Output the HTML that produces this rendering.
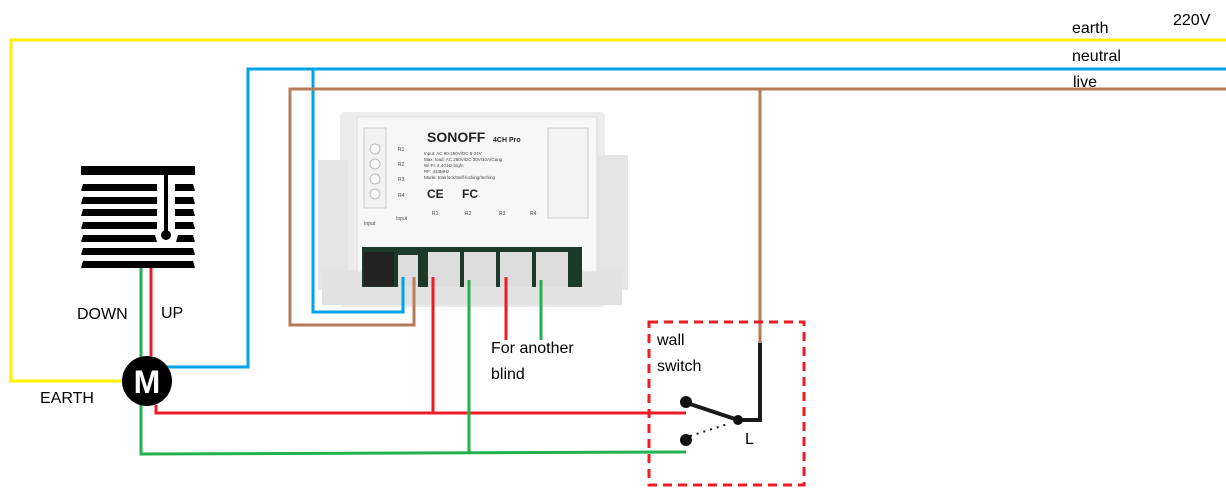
<!DOCTYPE html>
<html><head><style>
html,body{margin:0;padding:0;background:#fff;width:1226px;height:494px;overflow:hidden}
svg text{font-family:"Liberation Sans",sans-serif}
</style></head><body>
<svg width="1226" height="494" viewBox="0 0 1226 494" xmlns="http://www.w3.org/2000/svg">
<!-- device body -->
<g>
<rect x="340" y="112" width="265" height="195" rx="4" fill="#ececec"/>
<rect x="318" y="160" width="30" height="130" fill="#e4e4e4"/>
<rect x="598" y="155" width="30" height="135" fill="#e4e4e4"/>
<rect x="322" y="270" width="300" height="35" fill="#e2e2e2"/>
<rect x="357" y="117" width="240" height="155" fill="#f7f7f7" stroke="#ddd"/>
<rect x="364" y="128" width="22" height="80" fill="#f2f2f2" stroke="#ccc"/>
<rect x="548" y="128" width="40" height="90" fill="#f4f4f4" stroke="#ccc"/>
<circle cx="375" cy="149" r="5" fill="#fafafa" stroke="#bbb"/>
<circle cx="375" cy="164" r="5" fill="#fafafa" stroke="#bbb"/>
<circle cx="375" cy="179" r="5" fill="#fafafa" stroke="#bbb"/>
<circle cx="375" cy="194" r="5" fill="#fafafa" stroke="#bbb"/>
<rect x="362" y="247" width="220" height="40" fill="#1c3a2a"/>
<rect x="364" y="252" width="30" height="34" fill="#222"/>
<rect x="398" y="255" width="20" height="32" fill="#ddd"/>
<rect x="428" y="252" width="32" height="35" fill="#ddd"/>
<rect x="464" y="252" width="32" height="35" fill="#ddd"/>
<rect x="500" y="252" width="32" height="35" fill="#ddd"/>
<rect x="536" y="252" width="32" height="35" fill="#ddd"/>
<text x="427" y="142" font-size="14" font-weight="bold" fill="#222">SONOFF</text>
<text x="493" y="142" font-size="7" font-weight="bold" fill="#222">4CH Pro</text>
<text x="424" y="155" font-size="4.5" fill="#444">Input: AC 90-250V/DC 5-24V</text>
<text x="424" y="161" font-size="4.5" fill="#444">Max. load: AC 250V/DC 30V/10A/Gang</text>
<text x="424" y="167" font-size="4.5" fill="#444">Wi-Fi: 2.4GHz b/g/n</text>
<text x="424" y="173" font-size="4.5" fill="#444">RF: 433MHz</text>
<text x="424" y="179" font-size="4.5" fill="#444">Mode: Interlock/Self-locking/Inching</text>
<text x="427" y="198" font-size="12" font-weight="bold" fill="#222">CE</text>
<text x="462" y="198" font-size="12" font-weight="bold" fill="#222">FC</text>
<text x="396" y="220" font-size="5" fill="#444">Input</text>
<text x="364" y="225" font-size="5" fill="#444">Input</text>
<text x="432" y="215" font-size="5" fill="#444">R1</text>
<text x="465" y="215" font-size="5" fill="#444">R2</text>
<text x="499" y="215" font-size="5" fill="#444">R3</text>
<text x="530" y="215" font-size="5" fill="#444">R4</text>
<text x="398" y="151" font-size="5" fill="#444">R1</text>
<text x="398" y="166" font-size="5" fill="#444">R2</text>
<text x="398" y="181" font-size="5" fill="#444">R3</text>
<text x="398" y="197" font-size="5" fill="#444">R4</text>
</g>
<g fill="none" stroke-width="3" stroke-linejoin="miter">
<polyline points="1226,40 11,40 11,381 125,381" stroke="#ffef00"/>
<polyline points="1226,69 248,69 248,367 165,367" stroke="#00a2e8"/>
<polyline points="313,69 313,312 403,312 403,277" stroke="#00a2e8"/>
<polyline points="1226,89 290,89 290,325 414,325 414,277" stroke="#b97a57"/>
<polyline points="760,89 760,343" stroke="#b97a57"/>
<polyline points="760,343 760,420 740,420" stroke="#1a1a1a" stroke-width="4"/>
<polyline points="141,267 141,357" stroke="#22b14c"/>
<polyline points="151,267 151,356" stroke="#ed1c24"/>
<polyline points="156,405 156,413 686,413" stroke="#ed1c24"/>
<polyline points="433,277 433,413" stroke="#ed1c24"/>
<polyline points="141,405 141,454 686,452" stroke="#22b14c"/>
<polyline points="469,280 469,452" stroke="#22b14c"/>
<polyline points="506,277 506,340" stroke="#ed1c24"/>
<polyline points="541,280 541,340" stroke="#22b14c"/>
<rect x="649" y="322" width="155" height="163" stroke="#ed1c24" stroke-dasharray="9,6"/>
<line x1="687" y1="403" x2="738" y2="420" stroke="#1a1a1a" stroke-width="4"/>
<line x1="690" y1="436" x2="728" y2="424" stroke="#1a1a1a" stroke-width="2" stroke-dasharray="2,5"/>
</g>
<circle cx="686" cy="402" r="6" fill="#111"/>
<circle cx="686" cy="440" r="6" fill="#111"/>
<circle cx="738" cy="420" r="5" fill="#111"/>
<!-- blind -->
<g fill="#000">
<rect x="81" y="166" width="114" height="9"/>
<rect x="164" y="175" width="4" height="60"/>
<circle cx="166" cy="235" r="5"/>
<polygon points="83,184 157,184 157,191 81,191"/>
<polygon points="83,197 157,197 157,204 81,204"/>
<polygon points="83,209 157,209 157,216 81,216"/>
<polygon points="83,222 157,222 157,229 81,229"/>
<polygon points="83,235 155,235 157,242 81,242"/>
<polygon points="83,248 193,248 195,255 81,255"/>
<polygon points="83,261 193,261 195,268 81,268"/>
<polygon points="175,184 193,184 195,191 175,191"/>
<polygon points="175,197 193,197 195,204 175,204"/>
<polygon points="175,209 193,209 195,216 175,216"/>
<polygon points="175,222 193,222 195,229 175,229"/>
<polygon points="178,235 193,235 195,242 176,242"/>
</g>
<circle cx="147" cy="381" r="25" fill="#000"/>
<text x="147" y="393" font-size="32" font-weight="bold" fill="#fff" text-anchor="middle">M</text>
<g font-size="16" fill="#000">
<text x="1072" y="33">earth</text>
<text x="1173" y="25">220V</text>
<text x="1072" y="61">neutral</text>
<text x="1073" y="87">live</text>
<text x="77" y="319">DOWN</text>
<text x="161" y="318">UP</text>
<text x="40" y="403">EARTH</text>
<text x="491" y="353">For another</text>
<text x="491" y="379">blind</text>
<text x="657" y="345">wall</text>
<text x="657" y="371">switch</text>
<text x="745" y="444">L</text>
</g>
</svg>
</body></html>
